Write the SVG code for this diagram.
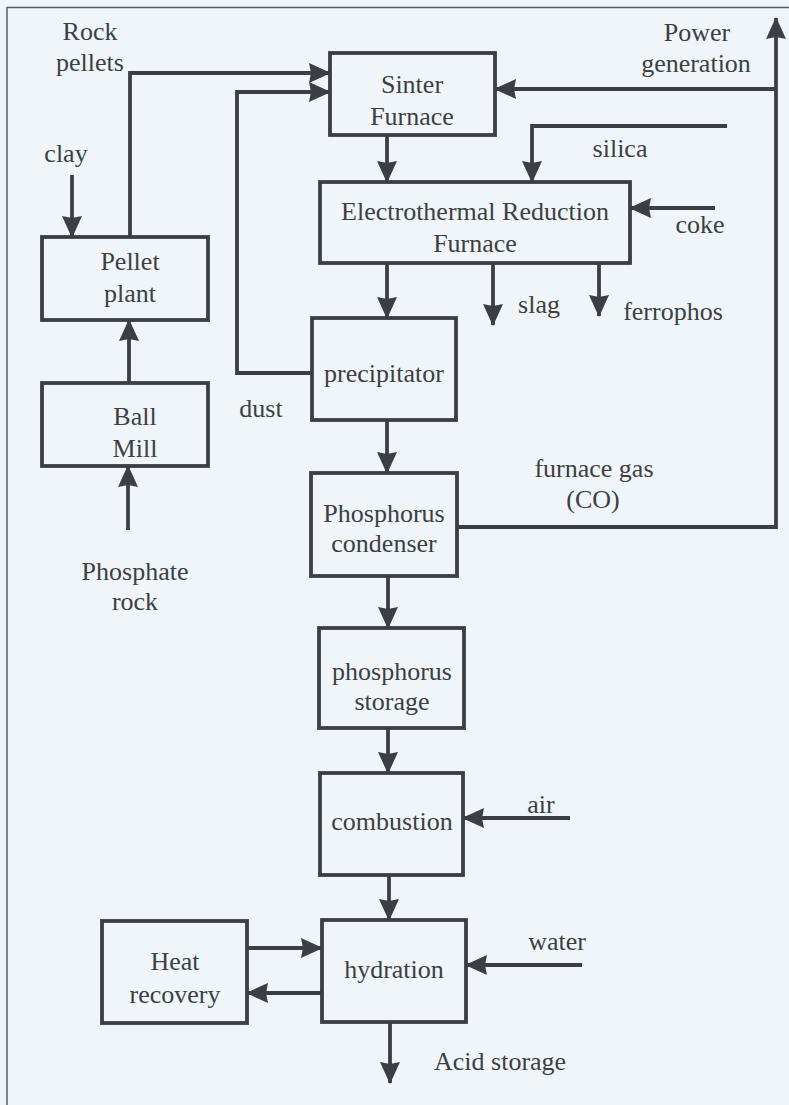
<svg xmlns="http://www.w3.org/2000/svg" width="789" height="1105" viewBox="0 0 789 1105">
  <defs>
    <marker id="arrow" markerUnits="userSpaceOnUse" viewBox="0 0 22 20" refX="21" refY="10" markerWidth="22" markerHeight="20" orient="auto">
      <path d="M0,0 L22,10 L0,20 L2,10 z" fill="#3b3e42"/>
    </marker>
    <style>
      .box { fill: none; stroke: #3b3e42; stroke-width: 3.8; }
      .flow { fill: none; stroke: #3b3e42; stroke-width: 3.8; marker-end: url(#arrow); }
      text { font-family: "Liberation Serif", "Times New Roman", serif; font-size: 26px; fill: #3d3f43; text-anchor: middle; }
      .start { text-anchor: start; }
    </style>
  </defs>

  <!-- page background and frame -->
  <rect x="0" y="0" width="789" height="1105" fill="#eff5f8"/>
  <path d="M7,1105 V7.5 H789" fill="none" stroke="#5a5d60" stroke-width="1.5"/>

  <!-- connectors -->
  <g id="connectors">
    <path class="flow" d="M130,237 V73 H330"/>
    <path class="flow" d="M312,373 H237 V92 H330"/>
    <path class="flow" d="M387,135 V182"/>
    <path class="flow" d="M727,126 H532 V182"/>
    <path class="flow" d="M715,208 H630"/>
    <path class="flow" d="M387,263 V318"/>
    <path class="flow" d="M493,263 V325"/>
    <path class="flow" d="M599,263 V316"/>
    <path class="flow" d="M387,420 V473"/>
    <path class="flow" d="M457,527 H776 V18"/>
    <path class="flow" d="M776,89 H495"/>
    <path class="flow" d="M388,576 V628"/>
    <path class="flow" d="M388,728 V773"/>
    <path class="flow" d="M570,818 H463"/>
    <path class="flow" d="M389,875 V920"/>
    <path class="flow" d="M582,965 H466"/>
    <path class="flow" d="M247,948 H322"/>
    <path class="flow" d="M322,993 H247"/>
    <path class="flow" d="M390,1022 V1083"/>
    <path class="flow" d="M129,383 V320"/>
    <path class="flow" d="M128,530 V466"/>
    <path class="flow" d="M72,175 V237"/>
  </g>

  <!-- process units -->
  <g id="sinter-furnace">
    <rect class="box" x="330" y="53" width="165" height="82"/>
    <text x="412" y="93">Sinter</text>
    <text x="412" y="125">Furnace</text>
  </g>
  <g id="electrothermal-furnace">
    <rect class="box" x="320" y="182" width="310" height="81"/>
    <text x="475" y="220">Electrothermal Reduction</text>
    <text x="475" y="252">Furnace</text>
  </g>
  <g id="precipitator">
    <rect class="box" x="312" y="318" width="144" height="102"/>
    <text x="384" y="382">precipitator</text>
  </g>
  <g id="phosphorus-condenser">
    <rect class="box" x="311" y="473" width="146" height="103"/>
    <text x="384" y="522">Phosphorus</text>
    <text x="384" y="552">condenser</text>
  </g>
  <g id="phosphorus-storage">
    <rect class="box" x="319" y="628" width="145" height="100"/>
    <text x="392" y="680">phosphorus</text>
    <text x="392" y="710">storage</text>
  </g>
  <g id="combustion">
    <rect class="box" x="320" y="773" width="143" height="102"/>
    <text x="392" y="830">combustion</text>
  </g>
  <g id="hydration">
    <rect class="box" x="322" y="920" width="144" height="102"/>
    <text x="394" y="978">hydration</text>
  </g>
  <g id="heat-recovery">
    <rect class="box" x="102" y="921" width="145" height="102"/>
    <text x="175" y="970">Heat</text>
    <text x="175" y="1003">recovery</text>
  </g>
  <g id="pellet-plant">
    <rect class="box" x="42" y="237" width="166" height="83"/>
    <text x="130" y="270">Pellet</text>
    <text x="130" y="302">plant</text>
  </g>
  <g id="ball-mill">
    <rect class="box" x="42" y="383" width="166" height="83"/>
    <text x="135" y="425">Ball</text>
    <text x="135" y="457">Mill</text>
  </g>

  <!-- stream labels -->
  <g id="labels">
    <text x="90" y="40">Rock</text>
    <text x="90" y="71">pellets</text>
    <text x="66" y="162">clay</text>
    <text x="697" y="41">Power</text>
    <text x="696" y="72">generation</text>
    <text x="620" y="157">silica</text>
    <text x="700" y="233">coke</text>
    <text x="539" y="313">slag</text>
    <text x="673" y="320">ferrophos</text>
    <text x="261" y="417">dust</text>
    <text x="594" y="477">furnace gas</text>
    <text x="593" y="508">(CO)</text>
    <text x="135" y="580">Phosphate</text>
    <text x="135" y="610">rock</text>
    <text x="541" y="813">air</text>
    <text x="557" y="950">water</text>
    <text class="start" x="434" y="1070">Acid storage</text>
  </g>
</svg>
